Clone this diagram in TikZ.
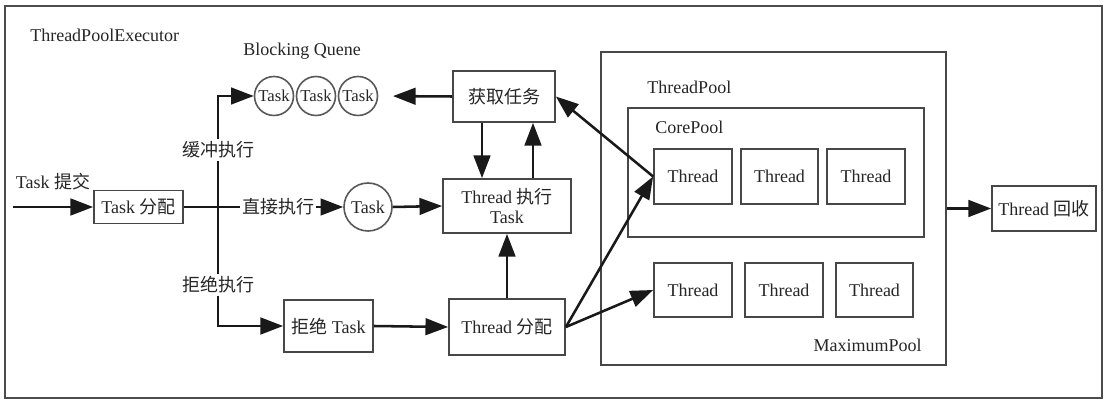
\documentclass[tikz,border=0pt]{standalone}
\usepackage{fontspec}
\setmainfont{Liberation Serif}
\newfontfamily\cjk{Noto Sans CJK SC}
\usetikzlibrary{arrows.meta}
\begin{document}
\begin{tikzpicture}[x=0.75pt,y=-0.75pt,
  font=\fontsize{13.5}{15}\selectfont,
  box/.style={draw=black!72, line width=1.3pt, inner sep=0pt, align=center, text=black!85},
  circ/.style={circle, draw=black!65, line width=1.2pt, inner sep=0pt, text=black!85},
  lbl/.style={fill=white, inner sep=1.5pt, text=black!85},
  txt/.style={inner sep=0pt, text=black!85},
  arr/.style={line width=1.9pt, draw=black!90, -{Triangle[length=17pt,width=12.5pt]}},
  ln/.style={line width=1.9pt, draw=black!90}]
\useasboundingbox (0,0) rectangle (1108,402);
\fill[white] (0,0) rectangle (1108,402);
\draw[black!70, line width=1.5pt] (5,6) rectangle (1102,398);

% titles
\node[txt, anchor=west] (tpe) at (30,35) {ThreadPoolExecutor};
\node[txt] (bq) at (302,51) {Blocking Quene};

% queue circles
\node[circ, minimum size=29.25pt, font=\fontsize{12.5}{14}\selectfont] (q1) at (274,96) {Task};
\node[circ, minimum size=29.25pt, font=\fontsize{12.5}{14}\selectfont] (q2) at (316,96) {Task};
\node[circ, minimum size=29.25pt, font=\fontsize{12.5}{14}\selectfont] (q3) at (358,96) {Task};

% left part
\coordinate (in) at (13,207);
\node[txt] (submit) at (53,182) {Task {\cjk 提交}};
\node[box, minimum width=66.75pt, minimum height=24.75pt] (tdisp) at (138.5,207) {Task {\cjk 分配}};
\coordinate (jn) at (218,207);
\node[lbl] (lbuf) at (218,150) {\cjk 缓冲执行};
\node[lbl] (ldir) at (278,207) {\cjk 直接执行};
\node[lbl] (lrej) at (218,285) {\cjk 拒绝执行};
\node[circ, minimum size=36pt] (tc) at (368,207) {Task};

\node[box, minimum width=96pt, minimum height=40.5pt] (exec) at (507,206) {Thread {\cjk 执行}\\Task};
\node[box, minimum width=76.5pt, minimum height=38.25pt] (fetch) at (504,96.5) {\cjk 获取任务};
\node[box, minimum width=87pt, minimum height=42pt] (tdist) at (507,327) {Thread {\cjk 分配}};
\node[box, minimum width=66.75pt, minimum height=39pt] (rej) at (328.5,326) {{\cjk 拒绝} Task};

% thread pool
\node[box, minimum width=258.75pt, minimum height=234.75pt] (pool) at (773.5,208.5) {};
\node[txt, anchor=west] (lpool) at (647,87) {ThreadPool};
\node[box, minimum width=222pt, minimum height=96.75pt] (core) at (776,172.5) {};
\node[txt, anchor=west] (lcore) at (655,127) {CorePool};
\node[box, minimum width=58.5pt, minimum height=41.25pt] (t1) at (693,176.5) {Thread};
\node[box, minimum width=58pt, minimum height=41.25pt] (t2) at (779.5,176.5) {Thread};
\node[box, minimum width=58.5pt, minimum height=41.25pt] (t3) at (866,176.5) {Thread};
\node[box, minimum width=58.5pt, minimum height=40.5pt] (t4) at (693,290) {Thread};
\node[box, minimum width=58.5pt, minimum height=40.5pt] (t5) at (784,290) {Thread};
\node[box, minimum width=58pt, minimum height=40.5pt] (t6) at (874.5,290) {Thread};
\node[txt, anchor=east] (lmax) at (922,345) {MaximumPool};
\node[box, minimum width=78pt, minimum height=33.75pt] (rec) at (1044,208.5) {Thread {\cjk 回收}};

% connectors
\draw[arr] (in) -- (tdisp.west);
\draw[ln] (tdisp.east) -- (ldir.west);
\draw[ln] (jn) -- (lbuf.south);
\draw[arr] (lbuf.north) |- (q1.west);
\draw[ln] (jn) -- (lrej.north);
\draw[arr] (lrej.south) |- (rej.west);
\draw[arr] (ldir.east) -- (tc.west);
\draw[arr] (tc.east) -- (exec.west);
\draw[arr, shorten >=11pt] (fetch.west) -- (q3.east);
\draw[arr] (fetch.south -| 482,0) -- (exec.north -| 482,0);
\draw[arr] (exec.north -| 533,0) -- (fetch.south -| 533,0);
\draw[arr] (tdist.north) -- (exec.south);
\draw[arr] (rej.east) -- (tdist.west);
\draw[arr] (tdist.east) -- (t1.west);
\draw[arr] (tdist.east) -- (t4.west);
\draw[arr] (t1.west) -- (fetch.east);
\draw[arr] (pool.east) -- (rec.west);
\end{tikzpicture}
\end{document}
